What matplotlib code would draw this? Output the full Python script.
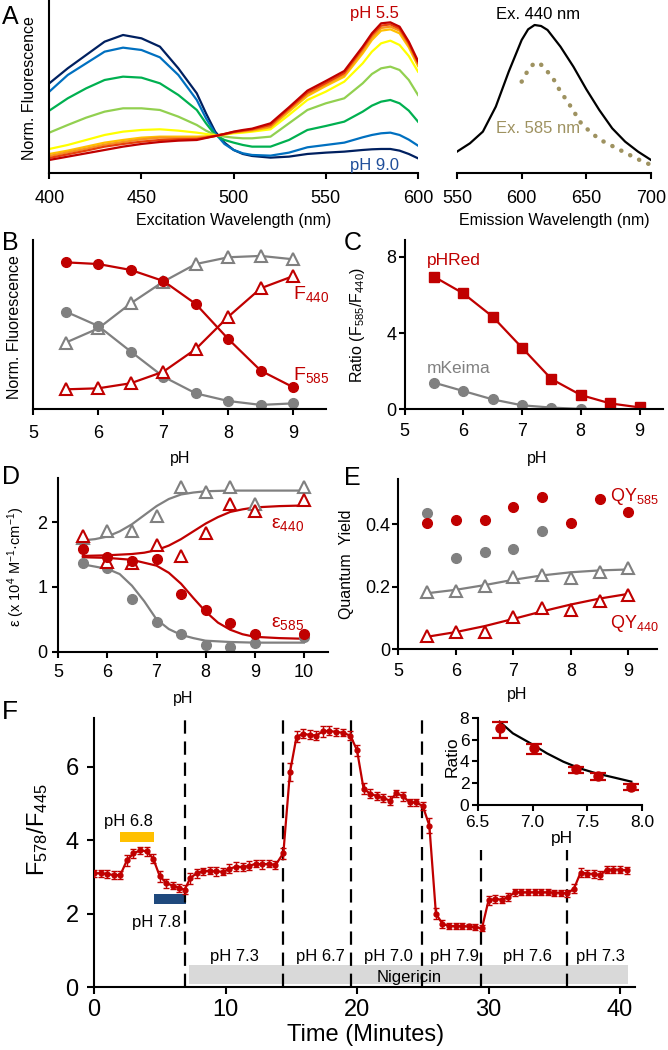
import matplotlib
matplotlib.use('Agg')
import matplotlib.pyplot as plt

plt.rcParams['font.family'] = ['Liberation Sans', 'DejaVu Sans']
plt.rcParams['mathtext.fontset'] = 'custom'
plt.rcParams['mathtext.rm'] = 'Liberation Sans'
plt.rcParams['mathtext.it'] = 'Liberation Sans:italic'
plt.rcParams['mathtext.bf'] = 'Liberation Sans:bold'
plt.rcParams['axes.linewidth'] = 1.5

# ---------------- DATA ----------------
# Panel A: excitation spectra (arbitrary units)
exc_wl = [400, 410, 420, 430, 440, 450, 460, 470, 480, 485, 490, 495, 500, 505, 510,
          520, 530, 540, 550, 560, 570, 575, 580, 585, 590, 595, 600]
exc_pH90 = [270, 315, 355, 395, 415, 405, 380, 315, 240, 180, 125, 92, 70, 58, 52,
            47, 50, 58, 62, 65, 70, 72, 73, 73, 68, 58, 45]
exc_pH85 = [245, 295, 330, 365, 377, 370, 348, 295, 220, 165, 120, 88, 70, 60, 55,
            53, 62, 78, 85, 92, 108, 115, 120, 122, 115, 101, 83]
exc_pH80 = [188, 225, 255, 280, 290, 287, 270, 235, 190, 150, 115, 100, 92, 85, 80,
            80, 100, 130, 142, 155, 185, 203, 215, 220, 210, 188, 155]
exc_pH75 = [122, 145, 167, 185, 195, 195, 190, 170, 145, 128, 115, 110, 107, 105, 105,
            110, 150, 190, 210, 225, 270, 298, 315, 320, 310, 280, 235]
exc_pH70 = [73, 85, 100, 115, 125, 130, 132, 128, 122, 118, 114, 116, 120, 122, 125,
            132, 175, 220, 245, 275, 330, 365, 390, 398, 385, 352, 305]
exc_pH65 = [58, 68, 80, 92, 100, 107, 110, 110, 110, 111, 113, 117, 122, 125, 128,
            138, 185, 232, 262, 290, 360, 400, 428, 432, 420, 378, 322]
exc_pH60 = [52, 63, 74, 86, 94, 102, 107, 106, 106, 109, 112, 117, 123, 127, 130,
            140, 190, 238, 267, 296, 368, 408, 436, 440, 428, 385, 328]
exc_pH575 = [46, 57, 68, 80, 88, 95, 100, 102, 103, 107, 112, 118, 124, 128, 132,
             145, 194, 242, 271, 301, 375, 415, 443, 447, 434, 390, 332]
exc_pH55 = [40, 50, 60, 70, 80, 88, 94, 98, 100, 106, 112, 118, 125, 130, 134,
            150, 198, 248, 277, 307, 380, 420, 450, 453, 440, 395, 337]

# Panel A right: emission spectra
em440_wl = [550, 560, 570, 580, 590, 600, 605, 610, 615, 620, 630, 640, 650, 660, 670, 680, 690, 700]
em440 = [65, 90, 125, 200, 305, 400, 432, 445, 442, 430, 380, 320, 252, 190, 135, 95, 65, 40]
em585_wl = [600, 605, 610, 615, 620, 625, 630, 635, 640, 645, 650, 660, 670, 680, 690, 700]
em585 = [275, 310, 332, 326, 305, 280, 245, 218, 188, 155, 135, 102, 82, 62, 42, 25]

# Panel B
pH_B = [5.5, 6.0, 6.5, 7.0, 7.5, 8.0, 8.5, 9.0]
B_F585_pHRed = [0.868, 0.858, 0.823, 0.758, 0.622, 0.415, 0.228, 0.130]
B_F440_pHRed = [0.118, 0.124, 0.154, 0.222, 0.356, 0.547, 0.715, 0.787]
B_F440_mKeima = [0.394, 0.478, 0.626, 0.754, 0.858, 0.898, 0.906, 0.886]
B_F585_mKeima = [0.577, 0.492, 0.341, 0.193, 0.094, 0.049, 0.026, 0.035]

# Panel C
pH_C = [5.5, 6.0, 6.5, 7.0, 7.5, 8.0, 8.5, 9.0]
C_pHRed = [6.96, 6.08, 4.86, 3.23, 1.59, 0.75, 0.31, 0.10]
C_mKeima = [1.40, 0.96, 0.52, 0.21, 0.09, 0.02, 0.01, 0.01]

# Panel D
pH_D = [5.5, 6.0, 6.5, 7.0, 7.5, 8.0, 8.5, 9.0, 10.0]
D_e440_mKeima = [1.75, 1.86, 1.86, 2.10, 2.54, 2.47, 2.55, 2.28, 2.54]
D_e440_pHRed = [1.79, 1.39, 1.37, 1.65, 1.48, 1.83, 2.28, 2.18, 2.35]
D_e585_pHRed = [1.59, 1.47, 1.40, 1.43, 0.89, 0.65, 0.44, 0.28, 0.27]
D_e585_mKeima = [1.37, 1.30, 0.81, 0.46, 0.27, 0.10, 0.08, 0.13, 0.23]
fitD_gt_x = [5.5, 5.75, 6.0, 6.25, 6.5, 6.75, 7.0, 7.25, 7.5, 7.75, 8.0, 8.5, 9.0, 10.0]
fitD_gt_y = [1.72, 1.74, 1.78, 1.86, 1.97, 2.11, 2.25, 2.36, 2.43, 2.46, 2.48, 2.49, 2.49, 2.49]
fitD_rt_x = [5.5, 6.0, 6.5, 6.75, 7.0, 7.25, 7.5, 7.75, 8.0, 8.25, 8.5, 8.75, 9.0, 9.5, 10.0]
fitD_rt_y = [1.48, 1.49, 1.51, 1.53, 1.57, 1.64, 1.74, 1.86, 1.98, 2.08, 2.16, 2.20, 2.23, 2.25, 2.26]
fitD_rc_x = [5.5, 6.0, 6.5, 7.0, 7.25, 7.5, 7.75, 8.0, 8.25, 8.5, 8.75, 9.0, 9.5, 10.0]
fitD_rc_y = [1.46, 1.45, 1.42, 1.33, 1.22, 1.05, 0.83, 0.62, 0.45, 0.34, 0.27, 0.23, 0.21, 0.20]
fitD_gc_x = [5.5, 6.0, 6.25, 6.5, 6.75, 7.0, 7.25, 7.5, 7.75, 8.0, 8.5, 9.0, 10.0]
fitD_gc_y = [1.35, 1.28, 1.20, 1.02, 0.78, 0.50, 0.35, 0.26, 0.21, 0.17, 0.15, 0.14, 0.14]

# Panel E
pH_E = [5.5, 6.0, 6.5, 7.0, 7.5, 8.0, 8.5, 9.0]
E_QY585_pHRed = [0.405, 0.413, 0.413, 0.453, 0.485, 0.405, 0.480, 0.440]
pH_E_gc = [5.5, 6.0, 6.5, 7.0, 7.5]
E_QY585_mKeima = [0.434, 0.293, 0.312, 0.319, 0.379]
E_QY440_mKeima = [0.184, 0.186, 0.203, 0.232, 0.237, 0.229, 0.248, 0.261]
E_QY440_pHRed = [0.043, 0.056, 0.056, 0.104, 0.131, 0.126, 0.155, 0.173]
fitE_gray = [0.179, 0.190, 0.205, 0.222, 0.236, 0.246, 0.252, 0.255]
fitE_red = [0.040, 0.055, 0.074, 0.097, 0.121, 0.143, 0.162, 0.177]

# Panel F: time trace
trace_t = [0, 0.5, 1.0, 1.5, 2.0, 2.5, 3.0, 3.5, 4.0, 4.5,
           5.0, 5.5, 6.0, 6.5, 6.9, 7.3, 7.8, 8.3, 8.8, 9.3,
           9.8, 10.3, 10.8, 11.3, 11.8, 12.3, 12.8, 13.3, 13.8, 14.4,
           14.9, 15.4, 15.9, 16.4, 16.9, 17.4, 17.9, 18.4, 18.9, 19.5,
           20.0, 20.5, 21.0, 21.5, 22.0, 22.5, 23.0, 23.5, 24.0, 24.5,
           25.0, 25.5, 26.0, 26.5, 27.0, 27.5, 28.0, 28.5, 29.0, 29.5,
           30.0, 30.5, 31.0, 31.5, 32.0, 32.5, 33.0, 33.5, 34.0, 34.5,
           35.0, 35.5, 36.0, 36.5, 37.0, 37.5, 38.0, 38.5, 39.0, 39.5,
           40.0, 40.5]
trace_ratio = [3.10, 3.10, 3.08, 3.05, 3.05, 3.45, 3.64, 3.72, 3.70, 3.50,
               3.02, 2.83, 2.76, 2.70, 2.65, 2.96, 3.10, 3.15, 3.17, 3.15,
               3.14, 3.22, 3.28, 3.27, 3.30, 3.36, 3.34, 3.36, 3.32, 3.65,
               5.85, 6.82, 6.90, 6.87, 6.85, 6.97, 6.98, 6.95, 6.93, 6.85,
               6.45, 5.40, 5.27, 5.20, 5.15, 5.08, 5.28, 5.20, 5.03, 5.03,
               4.93, 4.40, 2.00, 1.72, 1.66, 1.66, 1.66, 1.65, 1.63, 1.60,
               2.36, 2.40, 2.38, 2.45, 2.58, 2.58, 2.58, 2.58, 2.58, 2.58,
               2.57, 2.57, 2.55, 2.68, 3.12, 3.09, 3.08, 3.05, 3.20, 3.20,
               3.20, 3.18]
trace_err = [0.10, 0.10, 0.12, 0.10, 0.12, 0.15, 0.12, 0.10, 0.12, 0.12,
             0.15, 0.12, 0.10, 0.12, 0.12, 0.15, 0.12, 0.10, 0.10, 0.12,
             0.10, 0.12, 0.12, 0.10, 0.12, 0.10, 0.12, 0.10, 0.10, 0.15,
             0.25, 0.15, 0.12, 0.12, 0.12, 0.15, 0.12, 0.12, 0.10, 0.12,
             0.15, 0.15, 0.12, 0.10, 0.12, 0.12, 0.10, 0.12, 0.10, 0.10,
             0.12, 0.20, 0.15, 0.10, 0.08, 0.08, 0.08, 0.08, 0.08, 0.08,
             0.12, 0.10, 0.10, 0.10, 0.10, 0.08, 0.08, 0.08, 0.08, 0.08,
             0.08, 0.08, 0.10, 0.12, 0.12, 0.10, 0.10, 0.10, 0.10, 0.10,
             0.10, 0.10]
dash_times = [6.95, 14.4, 19.55, 24.95, 29.4, 35.95]
dash_tops = [7.33, 7.33, 7.33, 7.33, 3.73, 3.73]
seg_labels = ['pH 7.3', 'pH 6.7', 'pH 7.0', 'pH 7.9', 'pH 7.6', 'pH 7.3']
seg_label_t = [10.7, 17.2, 22.4, 27.45, 32.97, 38.5]
nig_start, nig_end = 7.2, 40.6
bar68 = (2.0, 4.6)
bar78 = (4.6, 7.0)

# Inset
ins_pH = [6.70, 7.01, 7.40, 7.60, 7.90]
ins_ratio = [7.03, 5.20, 3.30, 2.66, 1.68]
ins_err_lo = [0.92, 0.55, 0.39, 0.37, 0.30]
ins_err_hi = [0.61, 0.40, 0.22, 0.24, 0.25]
ins_fit_pH = [6.70, 6.82, 6.98, 7.13, 7.28, 7.43, 7.58, 7.75, 7.90]
ins_fit = [7.64, 6.57, 5.66, 4.74, 3.97, 3.36, 2.90, 2.50, 2.14]

# ---------------- STYLE ----------------
RED = '#C00000'
GRAY = '#808080'
OLIVE = '#9E9260'
W, H = 668, 1050
fig = plt.figure(figsize=(6.68, 10.5), dpi=100)


def add_ax(x0, x1, ytop, ybot):
    ax = fig.add_axes([x0 / W, 1 - ybot / H, (x1 - x0) / W, (ybot - ytop) / H])
    ax.patch.set_alpha(0)
    for s in ['top', 'right']:
        ax.spines[s].set_visible(False)
    return ax


def ftext(x, y, s, **kw):
    kw.setdefault('ha', 'center')
    kw.setdefault('va', 'center')
    fig.text(x / W, 1 - y / H, s, **kw)


TICK = dict(direction='out', length=4, width=1.5, labelsize=13)

# ---------------- Panel A ----------------
axA = add_ax(49.3, 418, 0, 173.3)
spec = [(exc_pH90, '#002060'), (exc_pH85, '#0070C0'), (exc_pH80, '#00B050'),
        (exc_pH75, '#92D050'), (exc_pH70, '#FFFF00'), (exc_pH65, '#FFC000'),
        (exc_pH60, '#F7941D'), (exc_pH575, '#E8400A'), (exc_pH55, RED)]
for vals, c in spec:
    axA.plot(exc_wl, vals, color=c, lw=1.6, solid_joinstyle='round')
axA.set_xlim(400, 600)
axA.set_ylim(0, 520)
axA.set_yticks([])
axA.set_xticks([400, 450, 500, 550, 600])
axA.tick_params(axis='x', pad=8, **TICK)
axA.text(576.5, 478, 'pH 5.5', color=RED, fontsize=12, ha='center', va='center')
axA.text(576.5, 22, 'pH 9.0', color='#1F4E9A', fontsize=12, ha='center', va='center')

axA2 = add_ax(457, 651, 0, 173.3)
axA2.spines['left'].set_visible(False)
axA2.plot(em440_wl, em440, color='black', lw=1.6)
axA2.plot(em585_wl, em585, color=OLIVE, lw=3.2, linestyle=(0, (0.05, 2.2)),
          dash_capstyle='round')
axA2.set_xlim(550, 700)
axA2.set_ylim(0, 520)
axA2.set_yticks([])
axA2.set_xticks([550, 600, 650, 700])
axA2.tick_params(axis='x', pad=8, **TICK)
axA2.text(612.6, 475, 'Ex. 440 nm', color='black', fontsize=12, ha='center', va='center')
axA2.text(612.6, 135, 'Ex. 585 nm', color=OLIVE, fontsize=12, ha='center', va='center')

ftext(2, 17, 'A', fontsize=18, ha='left')
ftext(30, 88, 'Norm. Fluorescence', fontsize=11.5, rotation=90)
ftext(234, 221, 'Excitation Wavelength (nm)', fontsize=11.5)
ftext(554, 221, 'Emission Wavelength (nm)', fontsize=11.5)

# ---------------- Panel B ----------------
axB = add_ax(33.3, 325.8, 240, 409.3)
axB.plot(pH_B, B_F440_mKeima, '-^', color=GRAY, mfc='white', mec=GRAY, ms=9, mew=1.5, lw=1.6)
axB.plot(pH_B, B_F585_mKeima, '-o', color=GRAY, ms=7, lw=1.6)
axB.plot(pH_B, B_F585_pHRed, '-o', color=RED, ms=7, lw=1.6)
axB.plot(pH_B, B_F440_pHRed, '-^', color=RED, mfc='white', mec=RED, ms=9, mew=1.5, lw=1.6)
axB.set_xlim(5, 9.5)
axB.set_ylim(0, 1.0)
axB.set_yticks([])
axB.set_xticks([5, 6, 7, 8, 9])
axB.tick_params(axis='x', pad=7, **TICK)
axB.text(9.0, 0.68, 'F$_{440}$', color=RED, fontsize=14, ha='left', va='center')
axB.text(9.0, 0.20, 'F$_{585}$', color=RED, fontsize=14, ha='left', va='center')
ftext(2, 243, 'B', fontsize=18, ha='left')
ftext(15, 327, 'Norm. Fluorescence', fontsize=11.5, rotation=90)
ftext(180, 458, 'pH', fontsize=11.5)

# ---------------- Panel C ----------------
axC = add_ax(404.5, 663, 240, 409.3)
axC.plot(pH_C, C_mKeima, '-o', color=GRAY, ms=7, lw=1.6)
axC.plot(pH_C, C_pHRed, '-s', color=RED, ms=7, lw=1.6)
axC.set_xlim(5, 9.4)
axC.set_ylim(0, 8.88)
axC.set_yticks([0, 4, 8])
axC.set_xticks([5, 6, 7, 8, 9])
axC.tick_params(axis='x', pad=6, **TICK)
axC.tick_params(axis='y', pad=2, **TICK)
axC.text(5.38, 7.83, 'pHRed', color=RED, fontsize=12.5, ha='left', va='center')
axC.text(5.38, 2.15, 'mKeima', color=GRAY, fontsize=12.5, ha='left', va='center')
ftext(344, 243, 'C', fontsize=18, ha='left')
ftext(358, 325, 'Ratio (F$_{585}$/F$_{440}$)', fontsize=11.5, rotation=90)
ftext(537, 458, 'pH', fontsize=11.5)

# ---------------- Panel D ----------------
axD = add_ax(58.3, 328.4, 478.3, 651.7)
axD.plot(fitD_gt_x, fitD_gt_y, color=GRAY, lw=1.6)
axD.plot(fitD_gc_x, fitD_gc_y, color=GRAY, lw=1.6)
axD.plot(fitD_rt_x, fitD_rt_y, color=RED, lw=1.6)
axD.plot(fitD_rc_x, fitD_rc_y, color=RED, lw=1.6)
axD.plot(pH_D, D_e440_mKeima, '^', mfc='white', mec=GRAY, ms=9, mew=1.5)
axD.plot(pH_D, D_e585_mKeima, 'o', color=GRAY, ms=7)
axD.plot(pH_D, D_e440_pHRed, '^', mfc='white', mec=RED, ms=9, mew=1.5)
axD.plot(pH_D, D_e585_pHRed, 'o', color=RED, ms=7)
axD.set_xlim(5, 10.5)
axD.set_ylim(0, 2.68)
axD.set_yticks([0, 1, 2])
axD.set_xticks([5, 6, 7, 8, 9, 10])
axD.tick_params(axis='x', pad=5, **TICK)
axD.tick_params(axis='y', pad=4, **TICK)
axD.text(9.34, 1.96, 'ε$_{440}$', color=RED, fontsize=14, ha='left', va='center')
axD.text(9.34, 0.44, 'ε$_{585}$', color=RED, fontsize=14, ha='left', va='center')
ftext(2, 477, 'D', fontsize=18, ha='left')
ftext(16, 567, 'ε (x 10$^{4}$ M$^{-1}$·cm$^{-1}$)', fontsize=10.5, rotation=90)
ftext(183, 699, 'pH', fontsize=11.5)

# ---------------- Panel E ----------------
axE = add_ax(398.3, 657, 479.3, 649.3)
axE.plot(pH_E, fitE_gray, color=GRAY, lw=1.6)
axE.plot(pH_E, fitE_red, color=RED, lw=1.6)
axE.plot(pH_E, E_QY440_mKeima, '^', mfc='white', mec=GRAY, ms=9, mew=1.5)
axE.plot(pH_E, E_QY440_pHRed, '^', mfc='white', mec=RED, ms=9, mew=1.5)
axE.plot(pH_E_gc, E_QY585_mKeima, 'o', color=GRAY, ms=7)
axE.plot(pH_E, E_QY585_pHRed, 'o', color=RED, ms=7)
axE.set_xlim(5, 9.5)
axE.set_ylim(0, 0.543)
axE.set_yticks([0, 0.2, 0.4])
axE.set_yticklabels(['0', '0.2', '0.4'])
axE.set_xticks([5, 6, 7, 8, 9])
axE.tick_params(axis='x', pad=6, **TICK)
axE.tick_params(axis='y', pad=2, **TICK)
axE.text(8.68, 0.487, 'QY$_{585}$', color=RED, fontsize=13, ha='left', va='center')
axE.text(8.68, 0.083, 'QY$_{440}$', color=RED, fontsize=13, ha='left', va='center')
ftext(344, 478, 'E', fontsize=18, ha='left')
ftext(347, 564, 'Quantum  Yield', fontsize=11.5, rotation=90)
ftext(517, 695, 'pH', fontsize=11.5)

# ---------------- Panel F ----------------
axF = add_ax(94, 634.5, 718, 987)
axF.set_xlim(0, 41.1)
axF.set_ylim(0, 7.33)
axF.axhspan(0.08, 0.60, xmin=nig_start / 41.1, xmax=nig_end / 41.1, color='#D9D9D9', lw=0, zorder=1)
for t, top in zip(dash_times, dash_tops):
    axF.plot([t, t], [0, top], color='black', lw=1.6, linestyle=(0, (6, 3.5)), zorder=3)
axF.plot(trace_t, trace_ratio, color=RED, lw=1.6, zorder=4)
axF.errorbar(trace_t, trace_ratio, yerr=trace_err, fmt='o', color=RED, ms=3.5,
             elinewidth=1.0, capsize=2, capthick=1.0, zorder=5)
axF.fill_between(bar68, 3.95, 4.22, color='#FFC000', lw=0, zorder=2)
axF.fill_between(bar78, 2.26, 2.53, color='#1F497D', lw=0, zorder=2)
axF.text(2.62, 4.50, 'pH 6.8', fontsize=12, ha='center', va='center')
axF.text(4.71, 1.77, 'pH 7.8', fontsize=12, ha='center', va='center')
for lab, t in zip(seg_labels, seg_label_t):
    axF.text(t, 0.82, lab, fontsize=12, ha='center', va='center', zorder=6)
axF.text(24.0, 0.27, 'Nigericin', fontsize=12, ha='center', va='center', zorder=6)
axF.set_xticks([0, 10, 20, 30, 40])
axF.set_yticks([0, 2, 4, 6])
axF.tick_params(axis='both', direction='out', length=5, width=1.5, labelsize=17)
axF.tick_params(axis='x', pad=4)
axF.tick_params(axis='y', pad=6)
ftext(2, 712, 'F', fontsize=19, ha='left')
ftext(38, 830, 'F$_{578}$/F$_{445}$', fontsize=17, rotation=90)
ftext(366, 1035, 'Time (Minutes)', fontsize=17)

# ---------------- Inset ----------------
axI = add_ax(477.7, 642.3, 717.7, 805)
axI.set_zorder(10)
axI.plot(ins_fit_pH, ins_fit, color='black', lw=1.6)
axI.errorbar(ins_pH, ins_ratio, yerr=[ins_err_lo, ins_err_hi], fmt='o', color=RED,
             ms=6.5, elinewidth=1.6, capsize=6, capthick=1.6)
axI.set_xlim(6.5, 8.0)
axI.set_ylim(0, 8)
axI.set_xticks([6.5, 7.0, 7.5, 8.0])
axI.set_xticklabels(['6.5', '7.0', '7.5', '8.0'])
axI.set_yticks([0, 2, 4, 6, 8])
axI.tick_params(axis='both', direction='out', length=4, width=1.5, labelsize=12.5)
axI.tick_params(axis='x', pad=3)
axI.tick_params(axis='y', pad=2)
ftext(452, 757, 'Ratio', fontsize=12.5, rotation=90)
ftext(562, 838, 'pH', fontsize=12.5)

fig.savefig('out.png', dpi=100)
